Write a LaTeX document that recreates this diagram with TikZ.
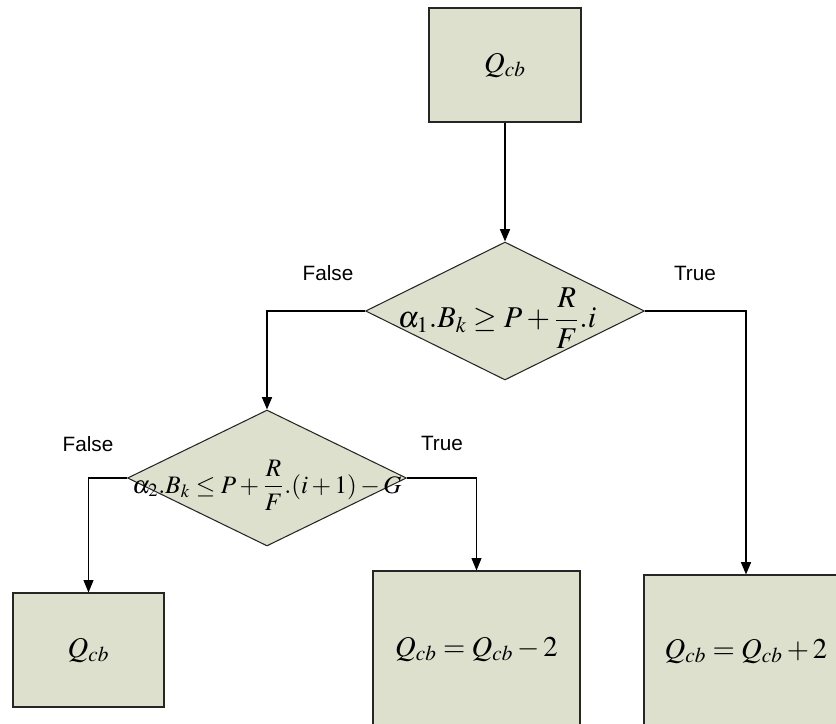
\documentclass[tikz,border=0pt]{standalone}
\usepackage{amsmath}
\usepackage{mathptmx}
\usepackage[no-math]{fontspec}
\setmainfont{Liberation Serif}
\newfontfamily\labelfont{Liberation Sans}
\definecolor{boxfill}{RGB}{220,224,204}
\usetikzlibrary{arrows.meta, positioning, shapes, shadows}

\begin{document}
\begin{tikzpicture}[
    x=0.02cm, y=-0.02cm,
    block/.style={rectangle, draw=black!85, line width=0.6pt, fill=boxfill, inner sep=0pt, font=\fontsize{16.3}{19}\selectfont, drop shadow={shadow xshift=0.7pt, shadow yshift=-0.7pt, fill=black!45, opacity=1}},
    decision/.style={diamond, draw=black!85, line width=0.6pt, fill=boxfill, inner sep=0pt},
    arrow/.style={-{Triangle[width=5.6pt, length=7pt]}, line width=1.1pt},
    thinarrow/.style={arrow, line width=0.6pt},
    tag/.style={font=\labelfont\fontsize{11.8}{14}\selectfont}
]
\useasboundingbox (0,0) rectangle (836,724);
\clip (0,0) rectangle (836,724);

\node[block, minimum width=3.04cm, minimum height=2.28cm] (start) at (505,65) {$Q_{cb}$};
\node[decision, minimum width=5.58cm, minimum height=2.76cm] (test1) at (505,311) {};
\node[font=\fontsize{17.2}{20}\selectfont] (cond1) at (497,318) {$\alpha_1.B_k \geq P+\dfrac{R}{F}.i$};
\node[decision, minimum width=5.58cm, minimum height=2.72cm] (test2) at (267,478) {};
\node[font=\fontsize{14.3}{17}\selectfont] (cond2) at (267,485) {$\alpha_2.B_k \leq P+\dfrac{R}{F}.(i+1)-G$};
\node[block, minimum width=3.02cm, minimum height=2.28cm] (keep) at (88.5,650) {$Q_{cb}$};
\node[block, minimum width=4.14cm, minimum height=3.12cm] (minus) at (476.5,649) {$Q_{cb}=Q_{cb}-2$};
\node[block, minimum width=4.08cm, minimum height=3.04cm] (plus) at (746,651) {$Q_{cb}=Q_{cb}+2$};

% branch labels
\node[tag] (false1) at (328,273) {False};
\node[tag] (true1) at (695,273) {True};
\node[tag] (false2) at (88,444) {False};
\node[tag] (true2) at (442,443) {True};

\draw[arrow] (start) -- (test1);
\draw[arrow] (test1.west) -| (test2.north);
\draw[arrow] (test1.east) -| (plus.north);
\draw[thinarrow] (test2.west) -| (keep.north);
\draw[thinarrow] (test2.east) -| (minus.north);
\end{tikzpicture}
\end{document}
